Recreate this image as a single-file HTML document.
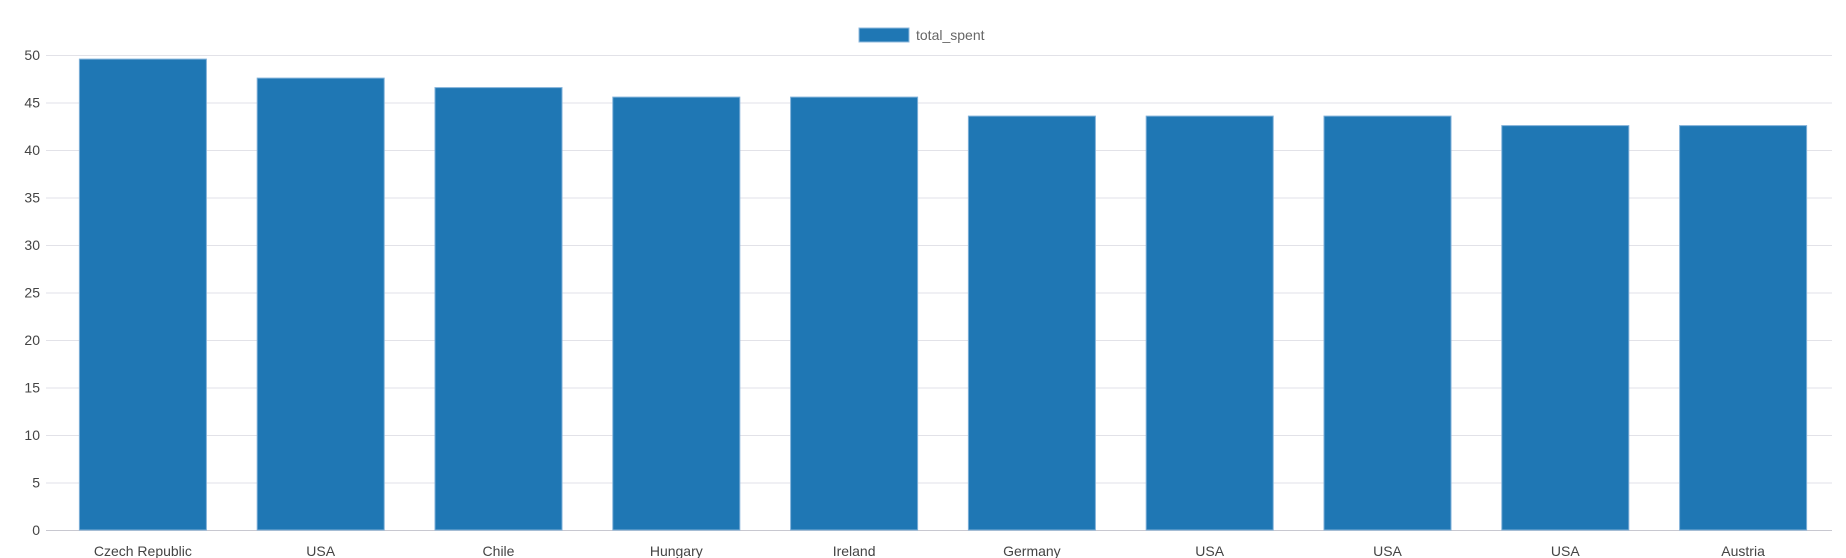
<!DOCTYPE html>
<html><head><meta charset="utf-8"><style>
html,body{margin:0;padding:0;background:#fff;}
svg{display:block;font-family:"Liberation Sans",Arial,sans-serif;}
</style></head><body>
<svg id="chart" width="1846" height="558" viewBox="0 0 1846 558" xmlns="http://www.w3.org/2000/svg">
<g id="legend">
<rect x="859" y="28" width="50" height="14" fill="#1f77b4" stroke="#8fb8dc" stroke-width="1"/>
<text x="916" y="40" font-size="14" fill="#666">total_spent</text>
</g>
<g id="grid"></g><g id="bars"></g><g id="xlabels"></g>
</svg>
<script>
const categories = ["Czech Republic","USA","Chile","Hungary","Ireland","Germany","USA","USA","USA","Austria"];
const totalSpent = [49.62,47.62,46.62,45.62,45.62,43.62,43.62,43.62,42.62,42.62];
const yTicks = [0,5,10,15,20,25,30,35,40,45,50];
const NS="http://www.w3.org/2000/svg";
const plotLeft=54,plotRight=1832,plotTop=55,plotBottom=530,yMax=50;
const band=(plotRight-plotLeft)/categories.length;
function yScale(v){return plotBottom-(v/yMax)*(plotBottom-plotTop);}
function xScale(i){return plotLeft+i*band;}
function mk(t,a){const e=document.createElementNS(NS,t);for(const k in a)e.setAttribute(k,a[k]);return e;}
const grid=document.getElementById('grid');
yTicks.forEach(t=>{
  const l=mk('line',{x1:46,x2:plotRight,y1:yScale(t)+0.5,y2:yScale(t)+0.5,stroke:t===0?'#c8c8d0':'#e2e2e8','stroke-width':1});
  
  
  grid.appendChild(l);
  const tx=mk('text',{x:40,y:yScale(t)+5,'text-anchor':'end','font-size':14,fill:'#444'});
  tx.textContent=t;
  
  
  grid.appendChild(tx);
});
const bars=document.getElementById('bars'),xl=document.getElementById('xlabels');
totalSpent.forEach((v,i)=>{
  const w=band*0.72,bx=xScale(i)+(band-w)/2;
  const r=mk('rect',{x:bx+0.5,y:yScale(v)+0.5,width:w-1,height:plotBottom-yScale(v)-0.5,fill:'#1f77b4',stroke:'#7fb0d8','stroke-width':1});
  
  
  bars.appendChild(r);
  const t=mk('text',{x:xScale(i)+band/2,y:556,'text-anchor':'middle','font-size':14,fill:'#444'});
  t.textContent=categories[i];
  
  
  xl.appendChild(t);
});
</script>
</body></html>
